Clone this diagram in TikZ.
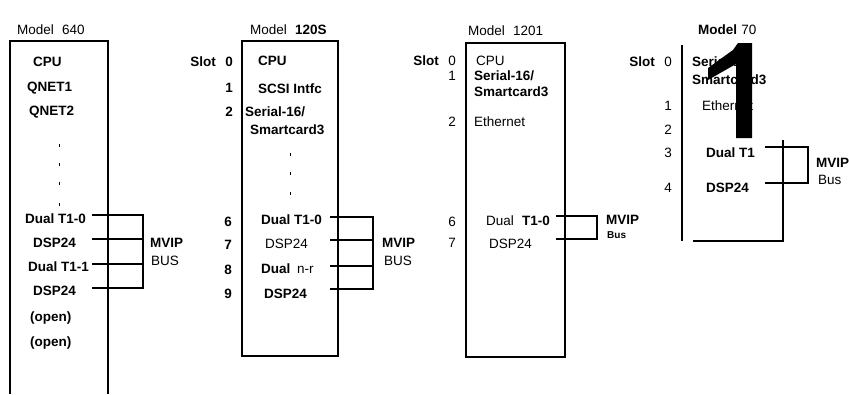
\documentclass[tikz,border=0pt]{standalone}
\usepackage{fontspec}
\setmainfont{Liberation Sans}
\begin{document}
\begin{tikzpicture}[x=1pt,y=-1pt,
  lbl/.style={inner sep=0pt,anchor=west,font=\fontsize{13.5}{15}\selectfont},
  blbl/.style={lbl,font=\fontsize{13.5}{15}\selectfont\bfseries},
  slot/.style={inner sep=0pt,anchor=east,font=\fontsize{13.5}{15}\selectfont},
  bslot/.style={slot,font=\fontsize{13.5}{15}\selectfont\bfseries},
  box/.style={line width=1.3pt},
  bus/.style={line width=1.2pt},
  tick/.style={line width=1pt}]
\useasboundingbox (0,0) rectangle (849,394);
% ---------------- Model 640
\node[lbl] (m640) at (17,30) {Model\hspace{0.6em}640};
\draw[box] (10,394) -- (10,41) -- (108,41) -- (108,394);
\draw[line width=2pt] (10,41) -- (10,394);
\node[blbl] (a0) at (33,62) {CPU};
\node[blbl] (a1) at (27,88) {QNET1};
\node[blbl] (a2) at (29,112) {QNET2};
\foreach \y in {145,164,183,204} \draw[tick] (59,\y-1.5) -- (59,\y+1.5);
\node[blbl] (a6) at (25,219) {Dual T1-0};
\node[blbl] (a7) at (33,243) {DSP24};
\node[blbl] (a8) at (28,267) {Dual T1-1};
\node[blbl] (a9) at (33,291) {DSP24};
\node[blbl] (a10) at (30,318) {(open)};
\node[blbl] (a11) at (30,343) {(open)};
\coordinate (ab1) at (92,215); \coordinate (ab2) at (92,239);
\coordinate (ab3) at (92,264); \coordinate (ab4) at (92,288);
\draw[bus] (ab1) -- (143,215) -- (143,288) -- (ab4);
\draw[bus] (ab2) -- (143,239);
\draw[bus] (ab3) -- (143,264);
\node[blbl] (amvip) at (150,243) {MVIP};
\node[lbl] (abus) at (151,261) {BUS};
% ---------------- Model 120S
\node[lbl] (m120) at (250,30) {Model\hspace{0.6em}\textbf{120S}};
\draw[box] (242,41) rectangle (338,356);
\node[bslot] (bs0) at (233,62) {Slot\hspace{0.7em}0};
\node[bslot] (bs1) at (233,88) {1};
\node[bslot] (bs2) at (233,112) {2};
\node[blbl] (b0) at (258,61) {CPU};
\node[blbl] (b1) at (258,89) {SCSI Intfc};
\node[blbl] (b2) at (245,112) {Serial-16/};
\node[blbl] (b2b) at (250,130) {Smartcard3};
\foreach \y in {154,173,193} \draw[tick] (290,\y-1.5) -- (290,\y+1.5);
\node[bslot] (bs6) at (232,222) {6};
\node[bslot] (bs7) at (232,245) {7};
\node[bslot] (bs8) at (232,270) {8};
\node[bslot] (bs9) at (232,294) {9};
\node[blbl] (b6) at (261,220) {Dual T1-0};
\node[lbl] (b7) at (265,244) {DSP24};
\node[lbl] (b8) at (261,269) {\textbf{Dual}\hspace{0.5em}n-r};
\node[blbl] (b9) at (264,294) {DSP24};
\coordinate (bb1) at (330,217); \coordinate (bb2) at (330,240);
\coordinate (bb3) at (330,266); \coordinate (bb4) at (330,289);
\draw[bus] (bb1) -- (373,217) -- (373,289) -- (bb4);
\draw[bus] (bb2) -- (373,240);
\draw[bus] (bb3) -- (373,266);
\node[blbl] (bmvip) at (382,243) {MVIP};
\node[lbl] (bbus) at (384,261) {BUS};
% ---------------- Model 1201
\node[lbl] (m1201) at (468,31) {Model\hspace{0.6em}1201};
\draw[box] (466,43) rectangle (565,357);
\node[slot] (cs0) at (456,61) {\textbf{Slot}\hspace{0.7em}0};
\node[slot] (cs1) at (456,76) {1};
\node[slot] (cs2) at (456,122) {2};
\node[lbl] (c0) at (476,61) {CPU};
\node[blbl] (c1) at (474,76) {Serial-16/};
\node[blbl] (c1b) at (474,92) {Smartcard3};
\node[lbl] (c2) at (474,122) {Ethernet};
\node[slot] (cs6) at (456,222) {6};
\node[slot] (cs7) at (456,243) {7};
\node[lbl] (c6) at (486,221) {Dual\hspace{0.6em}\textbf{T1-0}};
\node[lbl] (c7) at (489,244) {DSP24};
\coordinate (cb1) at (556,216); \coordinate (cb2) at (556,239);
\draw[bus] (cb1) -- (597,216) -- (597,239) -- (cb2);
\node[blbl] (cmvip) at (606,220) {MVIP};
\node[inner sep=0pt,anchor=west,font=\fontsize{10}{12}\selectfont\bfseries] (cbus) at (607,235) {Bus};
% ---------------- Model 70
\node[lbl] (m70) at (698,30) {\textbf{Model}\hspace{0.3em}70};
\draw[box] (682,45) -- (682,241);
\draw[box] (693,241) -- (783,241) -- (783,140);
\node[slot] (ds0) at (672,62) {\textbf{Slot}\hspace{0.7em}0};
\node[slot] (ds1) at (672,106) {1};
\node[slot] (ds2) at (672,130) {2};
\node[slot] (ds3) at (672,153) {3};
\node[slot] (ds4) at (672,188) {4};
\node[blbl] (d0) at (692,62) {Serial-16/};
\node[blbl] (d0b) at (692,80) {Smartcard3};
\node[lbl] (d1) at (702,106) {Ethernet};
\node[blbl] (d3) at (706,153) {Dual T1};
\node[blbl] (d4) at (706,188) {DSP24};
\coordinate (db1) at (765,147); \coordinate (db2) at (765,183);
\draw[bus] (db1) -- (808,147) -- (808,183) -- (db2);
\node[blbl] (dmvip) at (816,163) {MVIP};
\node[lbl] (dbus) at (818,180) {Bus};
% large scanned glyph "1" overlaid on Model 70
\fill (752,43) -- (752,138) -- (736,138) -- (736,64) -- (708,80) -- (708,68) -- (733,50) -- (738,43) -- cycle;
\end{tikzpicture}
\end{document}
